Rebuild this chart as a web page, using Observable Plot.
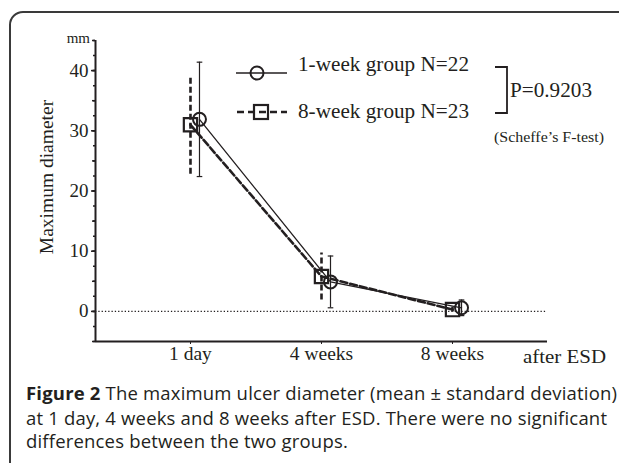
<!DOCTYPE html>
<html>
<head>
<meta charset="utf-8">
<script src="https://cdn.jsdelivr.net/npm/d3@7"></script>
<script src="https://cdn.jsdelivr.net/npm/@observablehq/plot@0.6"></script>
<style>
  html, body { margin: 0; padding: 0; background: #fff; overflow: hidden; }
  body { width: 619px; height: 463px; position: relative; }
  #border { position: absolute; left: 9px; top: 11px; width: 700px; height: 520px;
            border: 2px solid #3a3a3a; border-radius: 14px; box-sizing: border-box; }
  #chart { position: absolute; left: 0; top: 0; }
  .cap { position: absolute; left: 26px; font-family: "Open Sans", sans-serif; font-size: 18.5px;
         color: #231f20; white-space: nowrap; line-height: 24px; letter-spacing: 0.18px; }
</style>
</head>
<body>
<div id="border"></div>
<div id="chart"></div>
<div class="cap" style="top:381px"><b>Figure 2</b> The maximum ulcer diameter (mean ± standard deviation)</div>
<div class="cap" style="top:406px">at 1 day, 4 weeks and 8 weeks after ESD. There were no significant</div>
<div class="cap" style="top:429px">differences between the two groups.</div>
<script>
// ---- data ----
const times = ["1 day", "4 weeks", "8 weeks"];
const oneWeekMean = [31.9, 4.9, 0.6];
const oneWeekSD = [9.5, 4.3, 1.3];
const eightWeekMean = [31.0, 5.8, 0.3];
const eightWeekSD = [8.2, 3.9, 0.4];
const yTicks = [0, 10, 20, 30, 40];

const g1 = times.map((t, i) => ({i, t, m: oneWeekMean[i], lo: oneWeekMean[i] - oneWeekSD[i], hi: oneWeekMean[i] + oneWeekSD[i]}));
const g8 = times.map((t, i) => ({i, t, m: eightWeekMean[i], lo: eightWeekMean[i] - eightWeekSD[i], hi: eightWeekMean[i] + eightWeekSD[i]}));

const capSymbol = {draw(ctx, size) { const r = Math.sqrt(size / Math.PI); ctx.moveTo(-r, 0); ctx.lineTo(r, 0); }};
const serif = "Liberation Serif, Times New Roman, serif";
const off = 9; // horizontal dodge (px) for the 1-week group

const plot = Plot.plot({
  width: 619, height: 375,
  marginLeft: 95, marginRight: 72, marginTop: 40, marginBottom: 34,
  style: {fontFamily: serif, color: "#231f20", background: "transparent", overflow: "visible"},
  x: {type: "linear", domain: [-0.725, 2.725]},
  y: {domain: [-5, 45]},
  marks: [
    Plot.ruleY([0], {stroke: "#231f20", strokeWidth: 1.3, strokeDasharray: "1.3,2"}),
    Plot.ruleX([-0.725], {stroke: "#231f20", strokeWidth: 2}),
    Plot.ruleY([-5], {stroke: "#231f20", strokeWidth: 2}),
    Plot.axisY({ticks: d3.range(-5, 45.1, 2.5), tickSize: 2, tickFormat: () => "", strokeWidth: 1.5}),
    Plot.axisY({ticks: d3.range(-5, 45.1, 5), tickSize: 3, tickFormat: () => "", strokeWidth: 1.5}),
    Plot.axisY({ticks: yTicks, tickSize: 4, tickPadding: 3, fontSize: 19, strokeWidth: 1.5, label: null}),
    Plot.axisX({ticks: [0, 1, 2], tickFormat: i => times[i], tickSize: 3, tickPadding: 2, fontSize: 19.5, label: null}),
    // 8-week group (dashed, squares)
    Plot.ruleX(g8, {x: "i", y1: "lo", y2: "hi", stroke: "#231f20", strokeWidth: 2.6, strokeDasharray: "6,3"}),
    Plot.line(g8, {x: "i", y: "m", stroke: "#231f20", strokeWidth: 2.6, strokeDasharray: "7,3"}),
    Plot.dot(g8, {x: "i", y: "m", symbol: "square", r: 7.5, stroke: "#231f20", strokeWidth: 2.2, fill: "none"}),
    // 1-week group (solid, circles)
    Plot.ruleX(g1, {x: "i", y1: "lo", y2: "hi", dx: off, stroke: "#231f20", strokeWidth: 1.2}),
    Plot.dot(g1, {x: "i", y: "hi", dx: off, symbol: capSymbol, r: 2.8, stroke: "#231f20", strokeWidth: 1.2}),
    Plot.dot(g1, {x: "i", y: "lo", dx: off, symbol: capSymbol, r: 2.8, stroke: "#231f20", strokeWidth: 1.2}),
    Plot.line(g1, {x: "i", y: "m", dx: off, stroke: "#231f20", strokeWidth: 1.3}),
    Plot.dot(g1, {x: "i", y: "m", dx: off, r: 6.5, stroke: "#231f20", strokeWidth: 2, fill: "none"})
  ]
});
document.getElementById("chart").appendChild(plot);

// annotations
const svg = d3.select(plot);
const ink = "#231f20";
function txt(x, y, size, s, anchor, len) {
  const t = svg.append("text").attr("x", x).attr("y", y).attr("text-anchor", anchor || "start")
    .attr("font-family", serif).attr("font-size", size).attr("fill", ink).text(s);
  if (len) t.attr("textLength", len).attr("lengthAdjust", "spacingAndGlyphs");
  return t;
}
txt(90, 43, 15, "mm", "end");
svg.append("text").attr("transform", "translate(53,177) rotate(-90)").attr("text-anchor", "middle")
   .attr("font-family", serif).attr("font-size", 19.5).attr("fill", ink).text("Maximum diameter");
txt(523, 363, 19.5, "after ESD", "start", 83);

// legend
const lg = svg.append("g").attr("stroke", ink).attr("fill", "none");
lg.append("line").attr("x1", 236).attr("x2", 287).attr("y1", 73).attr("y2", 73).attr("stroke-width", 1.6);
lg.append("circle").attr("cx", 257).attr("cy", 73).attr("r", 6.5).attr("stroke-width", 2);
lg.append("line").attr("x1", 237).attr("x2", 287).attr("y1", 112).attr("y2", 112).attr("stroke-width", 2.6).attr("stroke-dasharray", "7,4");
lg.append("rect").attr("x", 254).attr("y", 105).attr("width", 14).attr("height", 14).attr("stroke-width", 2.2);
txt(298, 71, 20.5, "1-week group N=22", "start", 171);
txt(298, 118, 20.5, "8-week group N=23", "start", 171);
// bracket
svg.append("path").attr("d", "M495,67H507V113H495").attr("stroke", ink).attr("stroke-width", 1.8).attr("fill", "none");
txt(510, 97, 20.5, "P=0.9203", "start", 82);
txt(494, 142, 14, "(Scheffe’s F-test)", "start", 110);
</script>
</body>
</html>
